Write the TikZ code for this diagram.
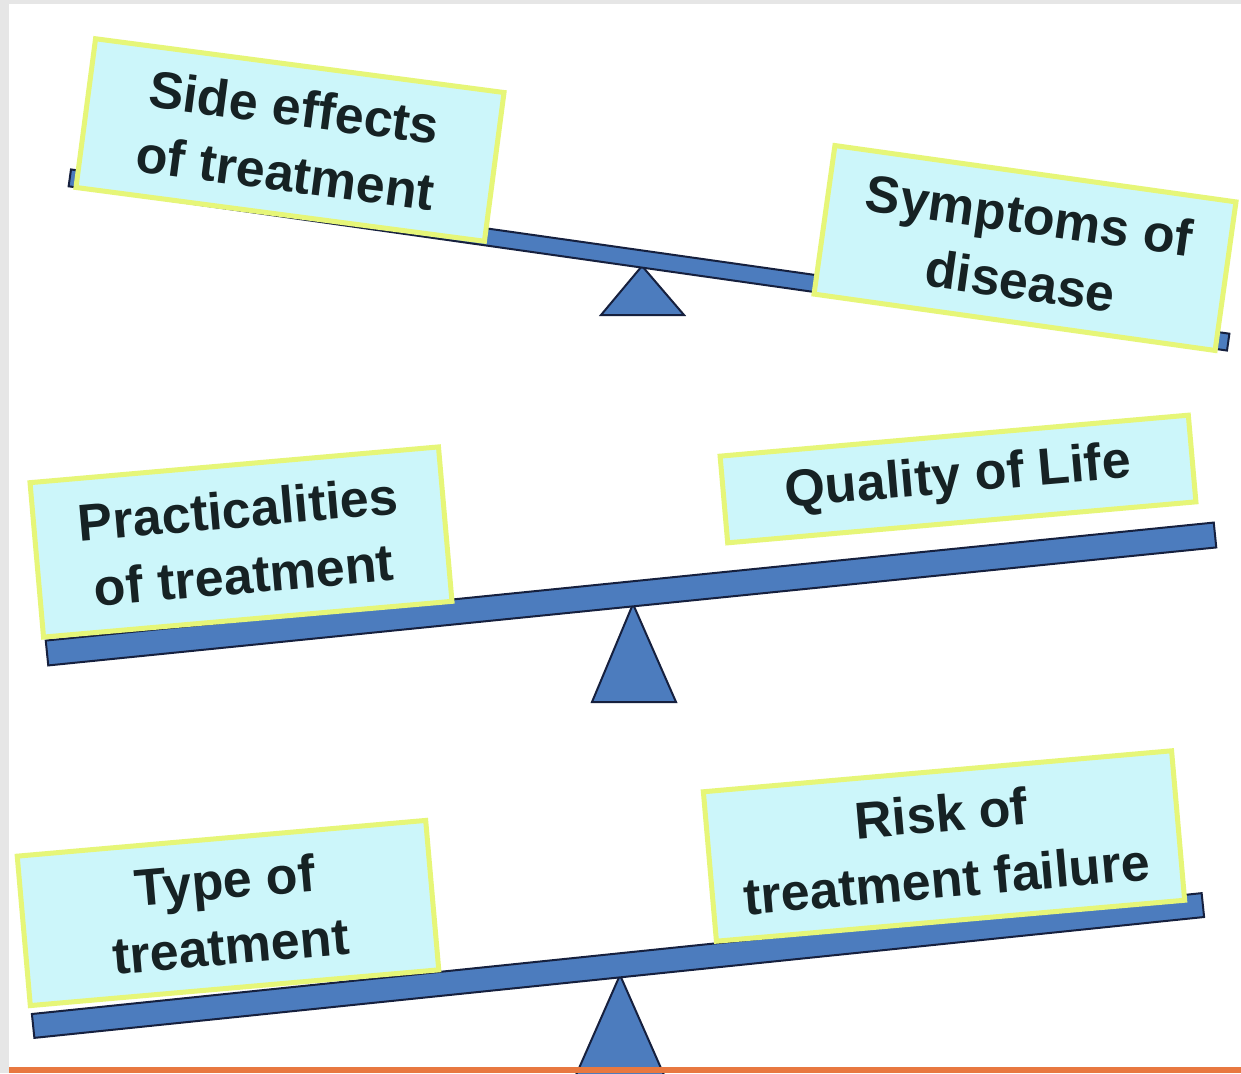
\documentclass[tikz,border=0pt]{standalone}
\usepackage{fontspec}
\setmainfont{Liberation Sans}
\definecolor{sidegray}{RGB}{230,230,230}
\definecolor{boxfill}{RGB}{204,246,250}
\definecolor{boxedge}{RGB}{230,246,120}
\definecolor{beamfill}{RGB}{76,124,190}
\definecolor{beamedge}{RGB}{22,32,62}
\definecolor{textcol}{RGB}{22,34,36}
\definecolor{orangeline}{RGB}{232,120,64}
\begin{document}
\begin{tikzpicture}[x=1pt,y=-1pt,
  beam/.style={draw=beamedge, fill=beamfill, line width=2pt, inner sep=0pt, rectangle},
  pivot/.style={draw=beamedge, fill=beamfill, line width=2pt, line join=miter},
  box/.style={draw=boxedge, fill=boxfill, line width=5pt, inner sep=0pt, align=center,
    text=textcol, font=\fontsize{52}{66}\selectfont\bfseries}]
\useasboundingbox (0,0) rectangle (1241,1073);
\fill[white] (0,0) rectangle (1241,1073);
\fill[sidegray] (0,0) rectangle (9,1073);
\fill[sidegray] (0,0) rectangle (1241,4);

% pivots
\draw[pivot] (642,266) -- (684,315) -- (601,315) -- cycle;
\draw[pivot] (633,604) -- (676,702) -- (592,702) -- cycle;
\draw[pivot] (620,975) -- (664,1075) -- (576,1075) -- cycle;

% beams
\node[beam, rotate=-8.07, minimum width=1170pt, minimum height=17pt] (beam1) at (649,260) {};
\node[beam, rotate=5.77, minimum width=1174pt, minimum height=25pt] (beam2) at (631,594) {};
\node[beam, rotate=5.9, minimum width=1176pt, minimum height=24pt] (beam3) at (618,965.5) {};

% boxes
\node[box, rotate=-7.5, minimum width=412pt, minimum height=150pt] (side) at (290,140) {Side effects\\of treatment};
\node[box, rotate=-8, minimum width=405pt, minimum height=150pt] (symp) at (1025,248) {Symptoms of\\disease};
\node[box, rotate=5, minimum width=410pt, minimum height=155pt] (prac) at (241,542) {Practicalities\\of treatment};
\node[box, rotate=5, minimum width=470pt, minimum height=87pt] (qol) at (958,479) {Quality of Life};
\node[box, rotate=5, minimum width=410pt, minimum height=150pt] (type) at (228,913) {Type of\\treatment};
\node[box, rotate=5, minimum width=470pt, minimum height=150pt] (risk) at (944,846) {Risk of\\treatment failure};

\fill[orangeline] (9,1067) rectangle (1241,1073);
\end{tikzpicture}
\end{document}
